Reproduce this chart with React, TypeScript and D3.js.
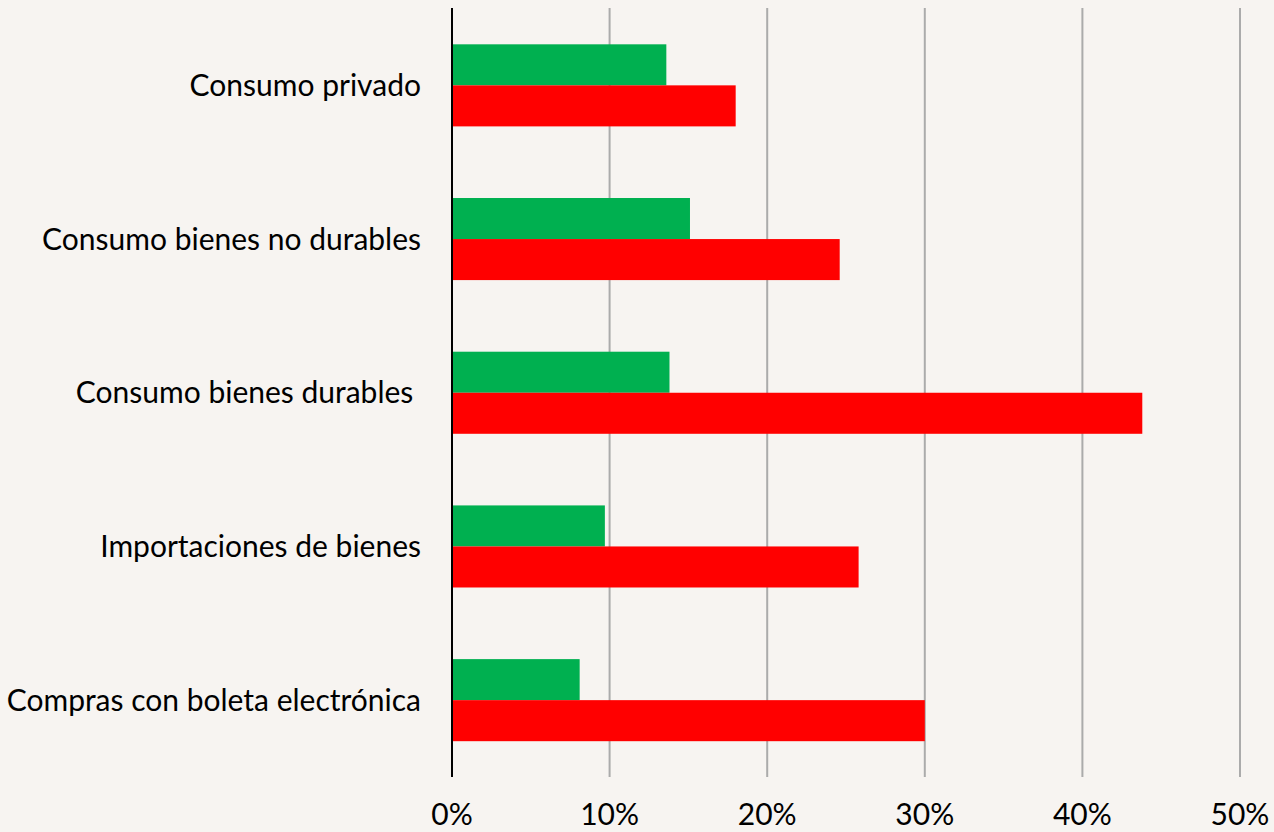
import React from "react";
import * as d3 from "d3";

// Categories listed top to bottom
const categories = [
  "Consumo privado",
  "Consumo bienes no durables",
  "Consumo bienes durables ",
  "Importaciones de bienes",
  "Compras con boleta electrónica",
];

// Percent values per category
const greenSeries = [13.6, 15.1, 13.8, 9.7, 8.1];
const redSeries = [18.0, 24.6, 43.8, 25.8, 30.0];

const tickValues = [0, 10, 20, 30, 40, 50];

const W = 1274;
const H = 832;
const FONT = "Lato, 'Open Sans', sans-serif";

export default function App() {
  const x = d3.scaleLinear().domain([0, 50]).range([452, 1240]);
  const y = d3
    .scaleBand<string>()
    .domain(categories)
    .range([8.5, 777])
    .paddingInner(0.466)
    .paddingOuter(0.233);
  const sub = d3
    .scaleBand<string>()
    .domain(["green", "red"])
    .range([0, y.bandwidth()]);

  const series = [
    { key: "green", values: greenSeries, color: "#00B050" },
    { key: "red", values: redSeries, color: "#FF0000" },
  ];

  return (
    <svg
      width={W}
      height={H}
      style={{ position: "absolute", left: 0, top: 0, background: "#F7F4F1" }}
    >
      <rect x={0} y={0} width={W} height={H} fill="#F7F4F1" />
      {tickValues
        .filter((t) => t > 0)
        .map((t) => (
          <line
            key={t}
            x1={x(t)}
            x2={x(t)}
            y1={8}
            y2={777}
            stroke="#ABABAB"
            strokeWidth={2}
          />
        ))}
      {series.map((s) =>
        categories.map((c, i) => (
          <rect
            key={s.key + c}
            x={x(0)}
            y={(y(c) ?? 0) + (sub(s.key) ?? 0)}
            width={x(s.values[i]) - x(0)}
            height={sub.bandwidth()}
            fill={s.color}
          />
        ))
      )}
      <line x1={x(0)} x2={x(0)} y1={8} y2={777} stroke="#000" strokeWidth={2} />
      {categories.map((c) => (
        <text
          key={c}
          x={421}
          y={(y(c) ?? 0) + y.bandwidth() / 2}
          dy="0.35em"
          textAnchor="end"
          fontFamily={FONT}
          fontSize={30}
          fill="#000"
          style={{ whiteSpace: "pre" }}
        >
          {c}
        </text>
      ))}
      {tickValues.map((t) => (
        <text
          key={"t" + t}
          x={x(t)}
          y={825}
          textAnchor="middle"
          fontFamily={FONT}
          fontSize={30}
          fill="#000"
        >
          {t + "%"}
        </text>
      ))}
    </svg>
  );
}
